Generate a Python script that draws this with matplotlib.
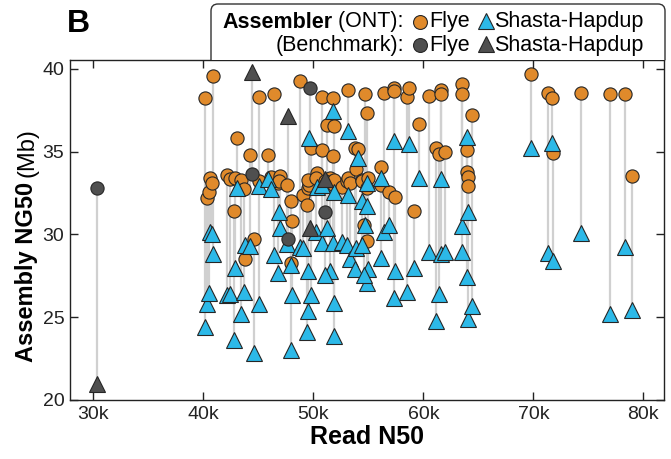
import numpy as np
import matplotlib
matplotlib.use("Agg")
import matplotlib.pyplot as plt
import matplotlib.transforms as mtransforms
from matplotlib.patches import FancyBboxPatch
from matplotlib.lines import Line2D
from matplotlib.ticker import FuncFormatter
from matplotlib.transforms import Bbox

plt.rcParams["font.family"] = ["Liberation Sans", "DejaVu Sans"]

# ONT samples: read N50 (kb), assembly NG50 (Mb) for Flye and Shasta-Hapdup
read_n50 = [40.15, 40.31, 40.55, 40.61, 40.76, 40.85,
            42.13, 42.43, 42.82, 42.88, 43.04, 43.43, 43.73, 43.79, 44.20, 44.61, 45.06, 45.06,
            45.91, 46.15, 46.45, 46.82, 46.97, 46.90, 47.60, 47.97, 48.09, 47.97, 48.79, 49.09,
            49.40, 49.55, 49.75, 49.60, 49.50,
            50.31, 50.20, 50.76, 50.76, 51.25, 51.52, 51.10, 51.75, 51.75, 51.88, 51.88, 51.90,
            52.58, 53.04, 53.18, 53.18, 53.30, 53.75, 53.88, 54.09, 54.40, 54.40, 54.70, 54.84,
            54.90, 55.00, 54.84, 54.60,
            56.11, 56.11, 56.43, 56.91, 57.29, 57.43, 57.35,
            58.49, 58.73, 59.18, 59.64,
            60.55, 61.58, 61.58, 61.15, 61.45, 61.97,
            63.49, 63.49, 63.95, 63.95, 64.04, 64.04, 64.40,
            69.76, 71.36, 71.67, 71.82, 74.31, 76.97, 78.34, 78.95]
flye_ng50 = [38.23, 32.18, 32.58, 33.39, 33.09, 39.58,
             33.59, 33.35, 31.43, 33.39, 35.81, 33.29, 32.73, 28.51, 34.80, 29.72, 38.33, 33.20,
             34.80, 33.45, 38.49, 33.09, 33.53, 33.20, 32.96, 32.04, 30.84, 28.25, 39.29, 32.38,
             31.78, 32.82, 35.21, 33.00, 33.30,
             33.70, 33.39, 38.29, 35.10, 36.60, 33.39, 33.20, 38.23, 34.74, 36.55, 32.99, 33.30,
             32.88, 33.24, 38.73, 33.39, 33.10, 35.21, 33.94, 35.15, 33.29, 33.20, 38.49, 37.32,
             29.60, 33.39, 32.82, 30.57,
             34.09, 32.99, 38.53, 32.55, 38.83, 32.28, 38.67,
             38.29, 38.83, 31.43, 36.67,
             38.38, 38.73, 38.47, 35.21, 34.86, 35.00,
             39.07, 38.47, 35.12, 33.75, 33.49, 32.93, 37.22,
             39.68, 38.53, 38.27, 34.94, 38.57, 38.49, 38.49, 33.53]
shasta_ng50 = [24.38, 25.82, 26.48, 30.16, 30.02, 28.80,
               26.34, 26.40, 23.62, 27.99, 32.82, 25.17, 26.55, 29.36, 29.30, 22.81, 25.82, 32.93,
               33.35, 32.73, 28.75, 27.65, 30.42, 31.37, 29.40, 23.05, 26.34, 28.15, 29.22, 29.16,
               24.12, 25.37, 26.34, 35.81, 27.79,
               32.88, 30.16, 29.46, 32.99, 30.42, 27.79, 27.55, 37.48, 29.50, 25.83, 23.86, 32.58,
               29.56, 29.36, 36.25, 32.38, 28.50, 27.89, 29.16, 34.60, 32.04, 29.36, 30.60, 31.73,
               27.08, 27.89, 33.09, 27.55,
               33.39, 28.60, 30.16, 30.57, 35.65, 27.80, 26.17,
               26.55, 35.45, 28.00, 33.39,
               28.95, 33.35, 28.80, 24.78, 26.40, 28.95,
               30.53, 28.95, 27.41, 35.87, 31.37, 24.87, 25.67,
               35.24, 28.89, 35.54, 28.41, 30.07, 25.19, 29.22, 25.43]

# benchmark assemblies
bench_n50 = [30.30, 44.43, 47.70, 49.70, 51.06]
bench_flye = [32.79, 33.65, 29.72, 38.87, 31.37]
bench_shasta = [20.99, 39.80, 37.18, 30.40, 33.35]

ORANGE = "#E08A2B"
BLUE = "#2CB9E8"
GREY = "#4F4F4F"
EDGE = "#262626"
STEM = "#D0D0D0"

W, H = 671, 459
fig = plt.figure(figsize=(W / 100, H / 100), dpi=100)
ax = fig.add_axes([70 / W, 1 - 400 / H, (664 - 70) / W, (400 - 60) / H])

f, s = np.array(flye_ng50), np.array(shasta_ng50)
ax.vlines(read_n50, np.minimum(f, s), np.maximum(f, s), color=STEM, lw=1.6, zorder=1)
bf, bs = np.array(bench_flye), np.array(bench_shasta)
ax.vlines(bench_n50, np.minimum(bf, bs), np.maximum(bf, bs), color=STEM, lw=1.6, zorder=1)

mk = dict(ls="none", mec=EDGE, mew=0.8)
ax.plot(read_n50, flye_ng50, "o", ms=9.5, mfc=ORANGE, zorder=3, **mk)
ax.plot(read_n50, shasta_ng50, "^", ms=11, mfc=BLUE, zorder=4, **mk)
ax.plot(bench_n50, bench_flye, "o", ms=9.5, mfc=GREY, zorder=5, **mk)
ax.plot(bench_n50, bench_shasta, "^", ms=11, mfc=GREY, zorder=5, **mk)

ax.set_xlim(27.88, 81.88)
ax.set_ylim(20, 40.54)
ax.set_xticks([30, 40, 50, 60, 70, 80])
ax.set_yticks([20, 25, 30, 35, 40])
ax.xaxis.set_major_formatter(FuncFormatter(lambda v, _: f"{int(v)}k"))
ax.tick_params(direction="in", top=True, right=True, length=6, width=1,
               labelsize=14, pad=4, colors="#222222")
for sp in ax.spines.values():
    sp.set_linewidth(1.0)
    sp.set_color("#222222")
ax.set_xlabel("Read N50", fontsize=18, fontweight="bold", labelpad=2)

# y label: bold part + regular unit
fig.canvas.draw()
r = fig.canvas.get_renderer()
t1 = fig.text(33 / W, 97 / H, "Assembly NG50", rotation=90, rotation_mode="anchor",
              ha="left", va="baseline", fontsize=17, fontweight="bold")
bb = t1.get_window_extent(r)
fig.text(33 / W, (bb.y1 + 5) / H, "(Mb)", rotation=90, rotation_mode="anchor",
         ha="left", va="baseline", fontsize=17)

fig.text(67 / W, 1 - 32 / H, "B", fontsize=23, fontweight="bold", ha="left", va="baseline")

# legend box drawn in pixel space, bottom edge hidden under the top spine
ident = mtransforms.IdentityTransform()
box = FancyBboxPatch((211, H - 75), 665 - 211, 75 - 4, boxstyle="round,pad=0,rounding_size=7",
                     transform=ident, fc="white", ec="#333333", lw=1.0, zorder=6)
box.set_clip_box(Bbox([[0, H - 60], [W, H]]))
fig.add_artist(box)

lfs = 15.5
rows = [(H - 22, "Assembler", " (ONT):", ORANGE, BLUE), (H - 45, None, "(Benchmark):", GREY, GREY)]
for y, bold, rest, c1, c2 in rows:
    t = fig.text(404 / W, y / H, rest, fontsize=lfs, ha="right", va="center", zorder=7)
    if bold:
        x0 = t.get_window_extent(r).x0
        fig.text(x0 / W, y / H, bold, fontsize=lfs, fontweight="bold", ha="right", va="center", zorder=7)
    fig.add_artist(Line2D([420], [y], transform=ident, marker="o", ms=10, mfc=c1, zorder=7, **mk))
    fig.text(429 / W, y / H, "Flye", fontsize=lfs, ha="left", va="center", zorder=7)
    fig.add_artist(Line2D([486], [y + 1], transform=ident, marker="^", ms=11, mfc=c2, zorder=7, **mk))
    fig.text(494 / W, y / H, "Shasta-Hapdup", fontsize=lfs, ha="left", va="center", zorder=7)

fig.savefig("out.png", dpi=100)
